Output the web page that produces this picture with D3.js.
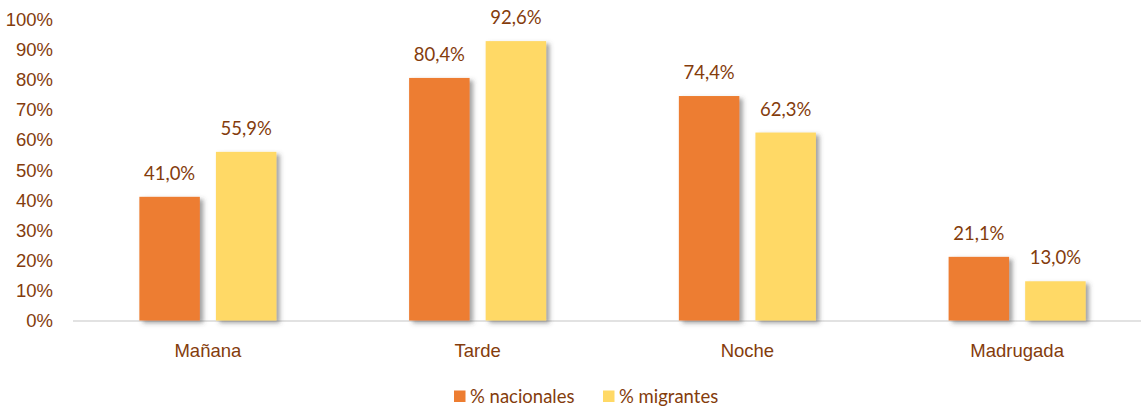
<!DOCTYPE html>
<html>
<head>
<meta charset="utf-8">
<script src="https://d3js.org/d3.v7.min.js"></script>
<style>
  body { margin: 0; background: #fff; }
  svg { display: block; font-family: Lato, "Open Sans", sans-serif; }
</style>
</head>
<body>
<svg width="1141" height="409"></svg>
<script>
// datos
const categorias = ["Mañana", "Tarde", "Noche", "Madrugada"];
const series = ["% nacionales", "% migrantes"];
const nacionales = [41.0, 80.4, 74.4, 21.1];
const migrantes = [55.9, 92.6, 62.3, 13.0];
const ticks = [0, 10, 20, 30, 40, 50, 60, 70, 80, 90, 100];
const colores = ["#ED7D31", "#FFD966"];
const textColor = "#843C0C";
const fs = "18.5px";

const svg = d3.select("svg");

const x0 = d3.scaleBand().domain(categorias).range([73, 1152]).paddingInner(0.492).paddingOuter(0.246);
const x1 = d3.scaleBand().domain(series).range([0, x0.bandwidth()]).paddingInner(0.21);
const y = d3.scaleLinear().domain([0, 100]).range([320.5, 18.8]);

// sombra de las barras
const defs = svg.append("defs");
defs.append("filter").attr("id", "sombra")
  .attr("x", "-20%").attr("y", "-20%").attr("width", "150%").attr("height", "150%")
  .append("feDropShadow")
  .attr("dx", 3.5).attr("dy", 2.5).attr("stdDeviation", 2.2)
  .attr("flood-color", "#444").attr("flood-opacity", 0.5);

// eje y (solo etiquetas)
const yAxis = svg.append("g")
  .attr("transform", "translate(53,0)")
  .call(d3.axisLeft(y).tickValues(ticks).tickSize(0).tickPadding(0).tickFormat(d => d + "%"));
yAxis.select(".domain").remove();
yAxis.selectAll("text")
  .attr("fill", textColor)
  .style("font-size", fs)
  .attr("dy", "0.35em");

// linea base
svg.append("line")
  .attr("x1", 73).attr("x2", 1141)
  .attr("y1", y(0) + 0.5).attr("y2", y(0) + 0.5)
  .attr("stroke", "#D9D9D9").attr("stroke-width", 1.5);

const filas = categorias.map((c, i) => ({ cat: c, valores: [nacionales[i], migrantes[i]] }));

const grupos = svg.selectAll("g.grupo")
  .data(filas)
  .join("g")
  .attr("class", "grupo")
  .attr("transform", d => `translate(${x0(d.cat)},0)`);

grupos.selectAll("rect")
  .data(d => d.valores.map((v, j) => ({ serie: series[j], v: v, j: j })))
  .join("rect")
  .attr("x", d => x1(d.serie))
  .attr("width", x1.bandwidth())
  .attr("y", d => y(d.v))
  .attr("height", d => y(0) - y(d.v))
  .attr("fill", d => colores[d.j])
  .attr("filter", "url(#sombra)");

grupos.selectAll("text.valor")
  .data(d => d.valores.map((v, j) => ({ serie: series[j], v: v })))
  .join("text")
  .attr("class", "valor")
  .attr("x", d => x1(d.serie) + x1.bandwidth() / 2)
  .attr("y", d => y(d.v) - 17)
  .attr("text-anchor", "middle")
  .attr("fill", textColor)
  .style("font-size", fs)
  .text(d => d.v.toFixed(1).replace(".", ",") + "%");

// eje x (etiquetas)
const xAxis = svg.append("g")
  .attr("transform", `translate(0,${y(0)})`)
  .call(d3.axisBottom(x0).tickSize(0).tickPadding(0));
xAxis.select(".domain").remove();
xAxis.selectAll("text")
  .attr("fill", textColor)
  .style("font-size", fs)
  .attr("dy", null)
  .attr("y", 36);

// leyenda
const leyenda = svg.append("g");
const posLeyenda = [454, 603];
series.forEach((s, i) => {
  leyenda.append("rect")
    .attr("x", posLeyenda[i]).attr("y", 390.5)
    .attr("width", 11.5).attr("height", 11.5)
    .attr("fill", colores[i]);
  leyenda.append("text")
    .attr("x", posLeyenda[i] + 16).attr("y", 402.5)
    .attr("fill", textColor)
    .style("font-size", fs)
    .text(s);
});
</script>
</body>
</html>
